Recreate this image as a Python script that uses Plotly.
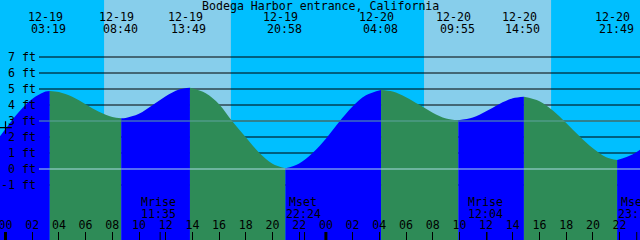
import plotly.graph_objects as go

# ---------------- data (hours since 12-19 00:00, heights in ft) ----------------
hourly_hours = [-1, 0, 1, 2, 3, 4, 5, 6, 7, 8, 9, 10, 11, 12, 13, 15, 16, 17, 18, 19, 20,
                22, 23, 24, 25, 26, 27, 29, 30, 31, 32, 33, 35, 36, 37, 38, 40, 41, 42, 43,
                44, 45, 47, 48]
hourly_feet = [1.40, 2.50, 3.57, 4.38, 4.84, 4.81, 4.51, 4.05, 3.58, 3.25, 3.19, 3.45, 3.98,
               4.55, 4.97, 4.74, 4.05, 2.97, 1.98, 1.02, 0.33,
               0.35, 1.00, 1.89, 2.95, 3.91, 4.61, 4.84, 4.49, 4.01, 3.52, 3.16, 3.22, 3.61,
               4.07, 4.42, 4.24, 3.65, 2.88, 2.05,
               1.30, 0.73, 0.92, 1.50]

extreme_hours = [3.317, 8.667, 13.817, 20.967, 28.133, 33.917, 38.833, 45.817]
extreme_feet = [4.88, 3.17, 5.08, 0.04, 4.94, 3.05, 4.52, 0.56]
extreme_dates = ["12-19", "12-19", "12-19", "12-19", "12-20", "12-20", "12-20", "12-20"]
extreme_times = ["03:19", "08:40", "13:49", "20:58", "04:08", "09:55", "14:50", "21:49"]

sunrise_hours = [7.383, 31.35]
sunset_hours = [16.883, 40.867]

moon_hours = [11.583, 22.4, 36.067, 47.283]
moon_events = ["Mrise", "Mset", "Mrise", "Mset"]
moon_times = ["11:35", "22:24", "12:04", "23:17"]

midnight_hours = [0, 24]
hour_ticks = list(range(0, 48, 2))
hour_labels = ["%02d" % (h % 24) for h in hour_ticks]

ft_levels = [7, 6, 5, 4, 3, 2, 1, 0, -1]
ft_labels = ["%d ft" % v for v in ft_levels]
msl_ft = 3
datum_ft = 0

now_hour = [0.0]
now_feet = [2.59]

title = "Bodega Harbor entrance, California"

# ---------------- styling ----------------
FONT = "DejaVu Sans Mono"
FS = 11.6
NIGHT = "#00BFFF"
DAY = "#87CEEB"
RISE = "#0000FF"
FALL = "#2E8B57"
X_RANGE = [-0.412, 47.528]
Y_RANGE = [-4.4375, 10.5625]
BASE = -6

pts = sorted(list(zip(hourly_hours, hourly_feet)) + list(zip(extreme_hours, extreme_feet)))

fig = go.Figure()

bounds = [-1e9] + extreme_hours + [1e9]
for a, b in zip(bounds[:-1], bounds[1:]):
    seg = [p for p in pts if a <= p[0] <= b]
    if len(seg) < 2:
        continue
    xs = [p[0] for p in seg]
    ys = [p[1] for p in seg]
    color = RISE if ys[-1] > ys[0] else FALL
    fig.add_trace(go.Scatter(x=[xs[0], xs[-1]], y=[BASE, BASE], mode="lines",
                             line=dict(width=0), hoverinfo="skip"))
    fig.add_trace(go.Scatter(x=xs, y=ys, mode="lines", line=dict(width=0, shape="spline"),
                             fill="tonexty", fillcolor=color, hoverinfo="skip"))

fig.add_trace(go.Scatter(x=now_hour, y=now_feet, mode="markers",
                         marker=dict(symbol="cross-thin", size=9,
                                     line=dict(width=1.2, color="black")),
                         hoverinfo="skip"))

shapes = []
for sr, ss in zip(sunrise_hours, sunset_hours):
    shapes.append(dict(type="rect", xref="x", yref="paper", x0=sr, x1=ss, y0=0, y1=1,
                       fillcolor=DAY, line=dict(width=0), layer="below"))
for v in ft_levels:
    shapes.append(dict(type="line", xref="paper", yref="y", x0=39 / 640, x1=1, y0=v, y1=v,
                       line=dict(color="black", width=1), layer="below"))
shapes.append(dict(type="line", xref="paper", yref="y", x0=39 / 640, x1=1, y0=msl_ft, y1=msl_ft,
                   line=dict(color="#5FA3A0", width=1), layer="above"))
shapes.append(dict(type="line", xref="paper", yref="y", x0=39 / 640, x1=1, y0=datum_ft, y1=datum_ft,
                   line=dict(color="#AADDE6", width=1), layer="above"))
for h in midnight_hours:
    shapes.append(dict(type="line", xref="x", yref="paper", x0=h, x1=h, y0=0, y1=8 / 240,
                       line=dict(color="black", width=3), layer="above"))
for h in moon_hours:
    shapes.append(dict(type="line", xref="x", yref="paper", x0=h, x1=h, y0=0, y1=8 / 240,
                       line=dict(color="black", width=1), layer="above"))

ann = []
ann.append(dict(text=title, x=0.5, xref="paper", y=1 - 5.5 / 240, yref="paper",
                xanchor="center", yanchor="middle", showarrow=False))
for v, lab in zip(ft_levels, ft_labels):
    ann.append(dict(text=lab, x=37 / 640, xref="paper", y=v, yref="y",
                    xanchor="right", yanchor="middle", showarrow=False, borderpad=0))
for h, d, t in zip(extreme_hours, extreme_dates, extreme_times):
    ann.append(dict(text=d, x=h, xref="x", y=1 - 17.5 / 240, yref="paper", xshift=-4.5,
                    xanchor="center", yanchor="middle", showarrow=False))
    ann.append(dict(text=t, x=h, xref="x", y=1 - 29 / 240, yref="paper", xshift=-1,
                    xanchor="center", yanchor="middle", showarrow=False))
for h, e, t in zip(moon_hours, moon_events, moon_times):
    ann.append(dict(text=e, x=h, xref="x", y=1 - 201.5 / 240, yref="paper", xshift=-1.4,
                    xanchor="center", yanchor="middle", showarrow=False))
    ann.append(dict(text=t, x=h, xref="x", y=1 - 213.5 / 240, yref="paper", xshift=-1.4,
                    xanchor="center", yanchor="middle", showarrow=False))

fig.update_layout(
    width=640, height=240, autosize=False,
    margin=dict(l=0, r=0, t=0, b=0),
    showlegend=False,
    plot_bgcolor=NIGHT, paper_bgcolor=NIGHT,
    font=dict(family=FONT, size=FS, color="black"),
    shapes=shapes, annotations=ann,
    xaxis=dict(range=X_RANGE, showgrid=False, zeroline=False, showline=False,
               ticks="inside", ticklen=8, tickwidth=1, tickcolor="black",
               tickvals=hour_ticks, ticktext=hour_labels,
               ticklabelposition="inside", ticklabeloverflow="allow",
               tickfont=dict(family=FONT, size=FS, color="black")),
    yaxis=dict(range=Y_RANGE, showgrid=False, zeroline=False, showline=False,
               showticklabels=False, ticks=""),
)

fig.write_html("out.html")
